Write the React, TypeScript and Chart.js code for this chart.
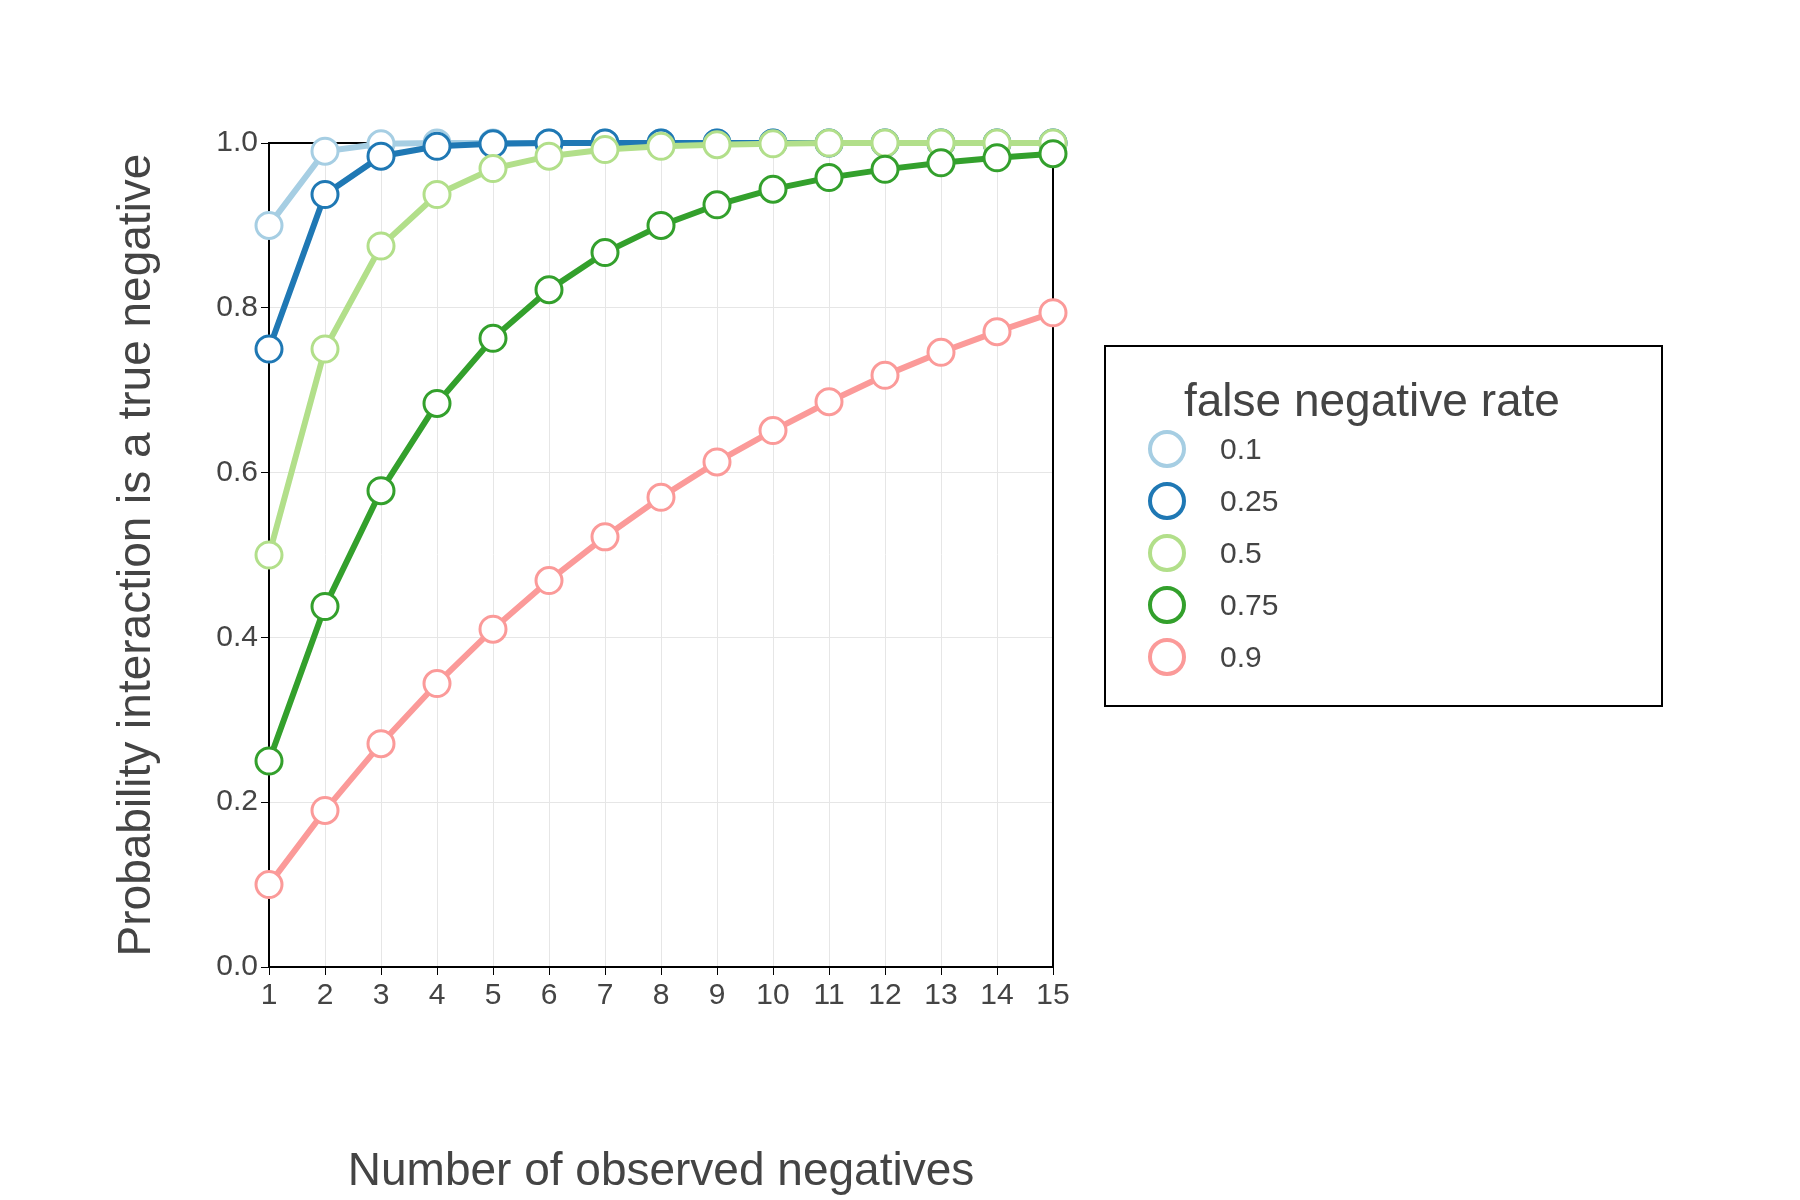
import { useEffect, useRef } from 'react'
import { Chart, registerables } from 'chart.js'

Chart.register(...registerables)

const observed = [1, 2, 3, 4, 5, 6, 7, 8, 9, 10, 11, 12, 13, 14, 15]
const rateLabels = ['0.1', '0.25', '0.5', '0.75', '0.9']
const colors = ['#a6cee3', '#1f78b4', '#b2df8a', '#33a02c', '#fb9a99']

const rate01 = [0.9, 0.99, 0.999, 1, 1, 1, 1, 1, 1, 1, 1, 1, 1, 1, 1]
const rate025 = [0.75, 0.9375, 0.984, 0.996, 0.999, 1, 1, 1, 1, 1, 1, 1, 1, 1, 1]
const rate05 = [0.5, 0.75, 0.875, 0.9375, 0.969, 0.984, 0.992, 0.996, 0.998, 0.999, 1, 1, 1, 1, 1]
const rate075 = [0.25, 0.4375, 0.578, 0.684, 0.763, 0.822, 0.867, 0.9, 0.925, 0.944, 0.958, 0.968, 0.976, 0.982, 0.987]
const rate09 = [0.1, 0.19, 0.271, 0.344, 0.41, 0.469, 0.522, 0.57, 0.613, 0.651, 0.686, 0.718, 0.746, 0.771, 0.794]
const series = [rate01, rate025, rate05, rate075, rate09]

const FONT = "'Liberation Sans', Arial, sans-serif"
const TEXT = '#444444'

export default function App() {
  const ref = useRef<HTMLCanvasElement>(null)

  useEffect(() => {
    if (!ref.current) return
    const chart = new Chart(ref.current, {
      type: 'line',
      data: {
        datasets: series.map((s, i) => ({
          label: rateLabels[i],
          data: s.map((v, j) => ({ x: observed[j], y: v })),
          order: series.length - i,
          borderColor: colors[i],
          borderWidth: 6,
          pointRadius: 13,
          pointBorderWidth: 3,
          pointBackgroundColor: '#ffffff',
          pointBorderColor: colors[i],
          clip: false,
        })),
      },
      options: {
        responsive: false,
        animation: false,
        layout: { padding: { top: 135, right: 739, left: 0, bottom: 0 } },
        plugins: { legend: { display: false }, tooltip: { enabled: false } },
        scales: {
          x: {
            type: 'linear', min: 1, max: 15,
            ticks: { stepSize: 1, color: TEXT, font: { family: FONT, size: 30 } },
            grid: { color: '#e6e6e6', lineWidth: 1, tickLength: 8, tickColor: '#000' },
            border: { color: '#000', width: 2 },
            title: { display: true, text: 'Number of observed negatives', color: TEXT, font: { family: FONT, size: 46 }, padding: { top: 113, bottom: 0 } },
            afterFit: (s: any) => { s.height = 233 },
          },
          y: {
            min: 0, max: 1,
            ticks: { stepSize: 0.2, color: TEXT, font: { family: FONT, size: 30 }, callback: (v: any) => Number(v).toFixed(1) },
            grid: { color: '#e6e6e6', lineWidth: 1, tickLength: 8, tickColor: '#000' },
            border: { color: '#000', width: 2 },
            title: { display: true, text: 'Probability interaction is a true negative', color: TEXT, font: { family: FONT, size: 46 }, padding: { top: 110, bottom: 0 } },
            afterFit: (s: any) => { s.width = 269 },
          },
          x2: {
            type: 'linear', position: 'top', min: 1, max: 15,
            ticks: { display: false }, grid: { display: false },
            border: { color: '#000', width: 2 },
          },
          y2: {
            position: 'right', min: 0, max: 1,
            ticks: { display: false }, grid: { display: false },
            border: { color: '#000', width: 2 },
          },
        },
      },
    })
    return () => chart.destroy()
  }, [])

  return (
    <div style={{ position: 'absolute', left: 0, top: 0, width: 1800, height: 1200, background: '#fff', fontFamily: FONT }}>
      <canvas ref={ref} width={1800} height={1200} />
      <div style={{ position: 'absolute', left: 1104, top: 345, width: 559, height: 362, border: '2px solid #000', boxSizing: 'border-box', color: TEXT }}>
        <div style={{ position: 'absolute', left: 78, top: 26, fontSize: 46 }}>false negative rate</div>
        {rateLabels.map((l, i) => (
          <div key={l} style={{ position: 'absolute', left: 42, top: 82 + i * 52, height: 40, display: 'flex', alignItems: 'center' }}>
            <div style={{ width: 30, height: 30, borderRadius: '50%', border: `4px solid ${colors[i]}`, background: '#fff' }} />
            <span style={{ marginLeft: 34, fontSize: 30 }}>{l}</span>
          </div>
        ))}
      </div>
    </div>
  )
}
